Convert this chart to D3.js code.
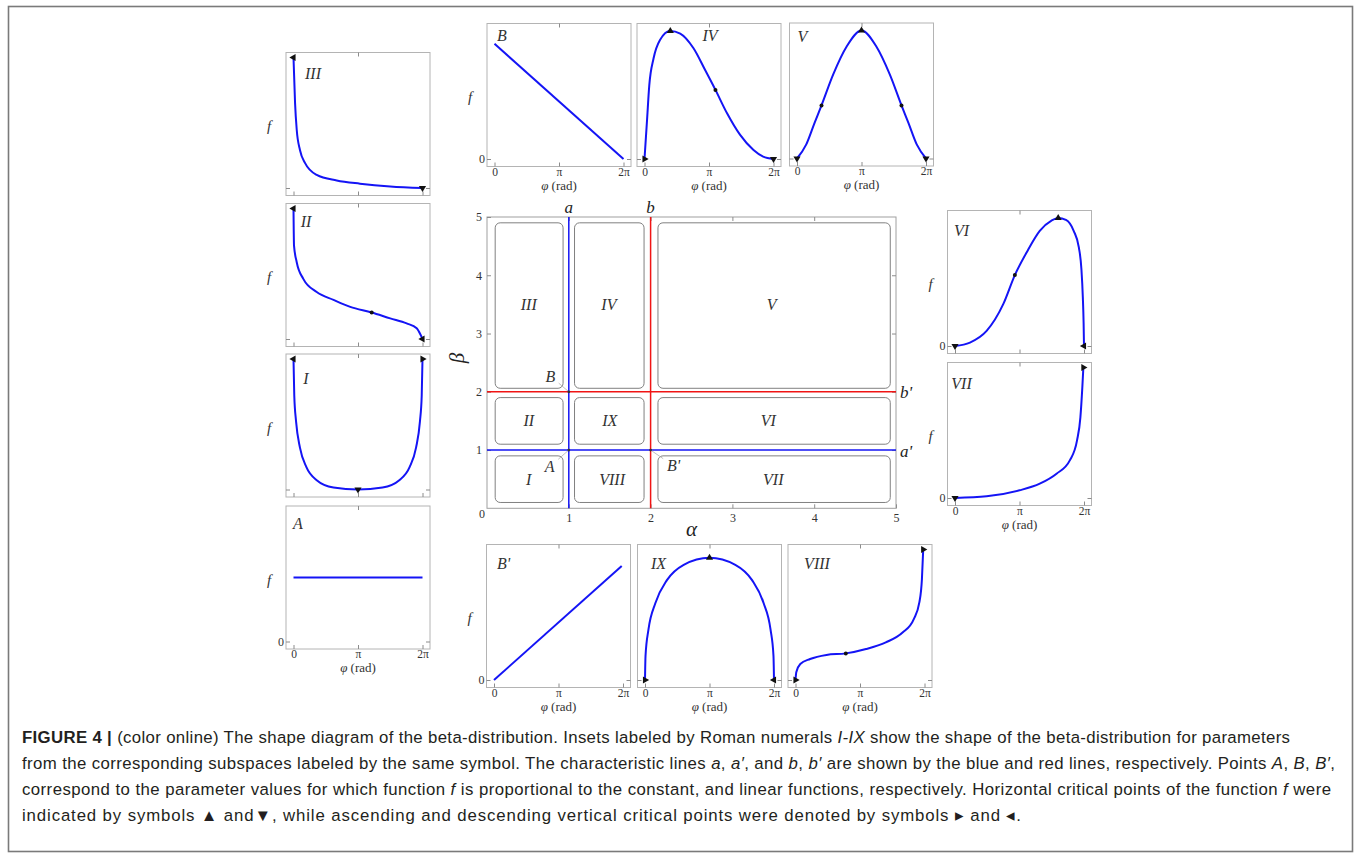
<!DOCTYPE html>
<html>
<head>
<meta charset="utf-8">
<script src="https://cdn.jsdelivr.net/npm/d3@7"></script>
<style>
  body { margin: 0; background: #fff; }
  svg { display: block; }
</style>
</head>
<body>
<svg id="chart" width="1354" height="854"></svg>
<script>
// ---------------- DATA ----------------
// Inset abscissa: phi in units of pi (0..2); ordinate: f relative to inset maximum
const PHI_TICKS = [0, 1, 2];
const PHI_TICK_LABELS = ["0", "\u03C0", "2\u03C0"];
const ALPHA_TICKS = [1, 2, 3, 4, 5];
const BETA_TICKS = [1, 2, 3, 4, 5];

const curveA = [[0, 0.5], [2, 0.5]];
const curveB = [[0, 0.9], [2, 0]];
const curveBp = [[0, 0], [1.98, 0.89]];
const curveI = [[0, 1.02], [0.012, 0.735], [0.04, 0.53], [0.1, 0.327], [0.2, 0.174], [0.36, 0.072], [0.62, 0.015], [1, 0],
                [1.38, 0.015], [1.64, 0.072], [1.8, 0.174], [1.9, 0.327], [1.96, 0.53], [1.988, 0.735], [2, 1.02]];
const curveII = [[0, 1.02], [0.008, 0.73], [0.05, 0.6], [0.152, 0.47], [0.36, 0.367], [0.62, 0.306], [0.88, 0.251],
                 [1.212, 0.207], [1.5, 0.161], [1.754, 0.122], [1.91, 0.084], [1.972, 0.031], [2, 0]];
const curveIII = [[0, 1.02], [0.024, 0.665], [0.05, 0.455], [0.1, 0.297], [0.18, 0.194], [0.36, 0.102], [0.67, 0.059],
                  [1.03, 0.034], [1.5, 0.012], [2, 0]];
const curveIV = [[0, 0], [0.04, 0.31], [0.074, 0.575], [0.14, 0.785], [0.24, 0.93], [0.4, 1], [0.554, 0.98], [0.76, 0.865],
                 [0.94, 0.695], [1.1, 0.54], [1.28, 0.357], [1.48, 0.19], [1.69, 0.07], [1.84, 0.018], [2, 0]];
const curveV = [[0, 0], [0.144, 0.11], [0.274, 0.28], [0.38, 0.415], [0.56, 0.655], [0.77, 0.875], [1, 1],
                [1.23, 0.875], [1.44, 0.655], [1.62, 0.415], [1.726, 0.28], [1.856, 0.11], [2, 0]];
const curveVI = [[0, 0], [0.232, 0.027], [0.49, 0.118], [0.748, 0.327], [0.928, 0.554], [1.11, 0.731], [1.314, 0.9],
                 [1.496, 0.98], [1.6, 1], [1.72, 0.985], [1.84, 0.9], [1.92, 0.77], [1.96, 0.6], [1.982, 0.38], [1.994, 0.18], [2, 0]];
const curveVII = [[0, 0], [0.49, 0.013], [1, 0.06], [1.314, 0.112], [1.574, 0.19], [1.78, 0.294], [1.892, 0.45],
                  [1.944, 0.63], [1.974, 0.864], [1.99, 1.02]];
const curveVIII = [[0, 0], [0.012, 0.06], [0.074, 0.125], [0.226, 0.164], [0.48, 0.196], [0.78, 0.208], [1.094, 0.242],
                   [1.4, 0.294], [1.66, 0.371], [1.834, 0.476], [1.92, 0.606], [1.96, 0.788], [1.98, 1.02]];
const curveIX = [[0, 0], [0.008, 0.188], [0.054, 0.395], [0.16, 0.6], [0.34, 0.78], [0.6, 0.9], [1, 0.955],
                 [1.4, 0.9], [1.66, 0.78], [1.84, 0.6], [1.946, 0.395], [1.992, 0.188], [2, 0]];

// critical points: [phi/pi, f, kind]
const marksI = [[0, 1.02, "left"], [1, 0, "down"], [2, 1.02, "right"]];
const marksII = [[0, 1.02, "left"], [1.212, 0.207, "dot"], [2, 0, "left"]];
const marksIII = [[0, 1.02, "left"], [2, 0, "down"]];
const marksIV = [[0, 0, "right"], [0.4, 1, "up"], [1.1, 0.54, "dot"], [2, 0, "down"]];
const marksV = [[0, 0, "down"], [0.38, 0.415, "dot"], [1, 1, "up"], [1.62, 0.415, "dot"], [2, 0, "down"]];
const marksVI = [[0, 0, "down"], [0.928, 0.554, "dot"], [1.6, 1, "up"], [2, 0, "left"]];
const marksVII = [[0, 0, "down"], [1.99, 1.02, "right"]];
const marksVIII = [[0, 0, "right"], [0.78, 0.208, "dot"], [1.98, 1.02, "right"]];
const marksIX = [[0, 0, "right"], [1, 0.955, "up"], [2, 0, "left"]];

// Main shape diagram: regions [label, alphaMin, alphaMax, betaMin, betaMax, labelAlpha, labelBeta]
const regionBoxes = [
  ["III", 0.1, 0.93, 2.06, 4.9, 0.51, 3.5],
  ["IV", 1.07, 1.92, 2.06, 4.9, 1.49, 3.5],
  ["V", 2.09, 4.93, 2.06, 4.9, 3.48, 3.5],
  ["II", 0.1, 0.93, 1.1, 1.9, 0.51, 1.5],
  ["IX", 1.07, 1.92, 1.1, 1.9, 1.5, 1.5],
  ["VI", 2.09, 4.93, 1.1, 1.9, 3.44, 1.5],
  ["I", 0.1, 0.93, 0.1, 0.9, 0.51, 0.5],
  ["VIII", 1.07, 1.92, 0.1, 0.9, 1.53, 0.5],
  ["VII", 2.09, 4.93, 0.1, 0.9, 3.5, 0.5]
];
// characteristic lines: [label, value]
const alphaLines = [["a", 1], ["b", 2]];
const betaLines = [["a'", 1], ["b'", 2]];
// special points [label, alpha, beta, labelAlpha, labelBeta]
const specialPoints = [["B", 1, 2, 0.775, 2.27], ["A", 1, 1, 0.765, 0.71], ["B'", 2, 1, 2.28, 0.73]];

const captionLines = [
  [["FIGURE 4", "b"], [" | ", "b"], ["(color online) The shape diagram of the beta-distribution. Insets labeled by Roman numerals ", ""], ["I-IX", "i"], [" show the shape of the beta-distribution for parameters", ""]],
  [["from the corresponding subspaces labeled by the same symbol. The characteristic lines ", ""], ["a", "i"], [", ", ""], ["a\u2032", "i"], [", and ", ""], ["b", "i"], [", ", ""], ["b\u2032", "i"], [" are shown by the blue and red lines, respectively. Points ", ""], ["A", "i"], [", ", ""], ["B", "i"], [", ", ""], ["B\u2032", "i"], [",", ""]],
  [["correspond to the parameter values for which function ", ""], ["f", "i"], [" is proportional to the constant, and linear functions, respectively. Horizontal critical points of the function ", ""], ["f", "i"], [" were", ""]],
  [["indicated by symbols \u25B2 and\u25BC, while ascending and descending vertical critical points were denoted by symbols \u25B8 and \u25C2.", ""]]
];

// ---------------- LAYOUT ----------------
const svg = d3.select("#chart");
const SERIF = "'Liberation Serif', 'Times New Roman', serif";
const SANS = "'Liberation Sans', Arial, Helvetica, sans-serif";
const BLUE = "#1414f5";
const RED = "#f01414";

svg.append("rect").attr("x", 8.5).attr("y", 6.5).attr("width", 1344).attr("height", 845)
  .attr("fill", "none").attr("stroke", "#7a7a7a").attr("stroke-width", 1.6);

// ---------- main diagram ----------
const xA = d3.scaleLinear().domain([0, 5]).range([487, 896]);
const yB = d3.scaleLinear().domain([0, 5]).range([508.3, 217]);
const main = svg.append("g");

main.append("rect").attr("x", xA(0)).attr("y", yB(5)).attr("width", xA(5) - xA(0)).attr("height", yB(0) - yB(5))
  .attr("fill", "none").attr("stroke", "#a0a0a0").attr("stroke-width", 1);

function styleAxis(g, size) {
  g.select(".domain").remove();
  g.selectAll(".tick line").attr("stroke", "#8c8c8c");
  g.selectAll(".tick text").attr("font-family", SERIF).attr("font-size", size).attr("fill", "#333");
}
main.append("g").attr("transform", `translate(0,${yB(0)})`)
  .call(d3.axisBottom(xA).tickValues(ALPHA_TICKS).tickSize(-4).tickPadding(5).tickFormat(d3.format("d")))
  .call(g => styleAxis(g, 12));
main.append("g").attr("transform", `translate(${xA(0)},0)`)
  .call(d3.axisLeft(yB).tickValues(BETA_TICKS).tickSize(-4).tickPadding(5).tickFormat(d3.format("d")))
  .call(g => styleAxis(g, 12));
main.append("g").attr("transform", `translate(0,${yB(5)})`)
  .call(d3.axisTop(xA).tickValues(ALPHA_TICKS.slice(0, 4)).tickSize(-4).tickFormat(""))
  .call(g => styleAxis(g, 12));
main.append("g").attr("transform", `translate(${xA(5)},0)`)
  .call(d3.axisRight(yB).tickValues(BETA_TICKS.slice(0, 4)).tickSize(-4).tickFormat(""))
  .call(g => styleAxis(g, 12));
main.append("text").attr("x", xA(0) - 5).attr("y", yB(0) + 10).attr("text-anchor", "middle")
  .attr("font-family", SERIF).attr("font-size", 12).attr("fill", "#333").text("0");

// region boxes
main.selectAll(".region").data(regionBoxes).join("rect").attr("class", "region")
  .attr("x", d => xA(d[1])).attr("y", d => yB(d[4]))
  .attr("width", d => xA(d[2]) - xA(d[1])).attr("height", d => yB(d[3]) - yB(d[4]))
  .attr("rx", 5).attr("ry", 5).attr("fill", "none").attr("stroke", "#808080").attr("stroke-width", 1);
main.selectAll(".rlabel").data(regionBoxes).join("text").attr("class", "rlabel")
  .attr("x", d => xA(d[5])).attr("y", d => yB(d[6])).attr("text-anchor", "middle").attr("dominant-baseline", "central")
  .attr("font-family", SERIF).attr("font-style", "italic").attr("font-size", 16).attr("fill", "#333").text(d => d[0]);

// characteristic lines
alphaLines.forEach(([lab, v], i) => {
  const c = i === 0 ? BLUE : RED;
  main.append("line").attr("x1", xA(v)).attr("x2", xA(v)).attr("y1", yB(0)).attr("y2", yB(5))
    .attr("stroke", c).attr("stroke-width", 1.5);
  main.append("text").attr("x", xA(v)).attr("y", yB(5) - 10).attr("text-anchor", "middle").attr("dominant-baseline", "central")
    .attr("font-family", SERIF).attr("font-style", "italic").attr("font-size", 17).attr("fill", "#222").text(lab);
});
betaLines.forEach(([lab, v], i) => {
  const c = i === 0 ? BLUE : RED;
  main.append("line").attr("x1", xA(0)).attr("x2", xA(5)).attr("y1", yB(v)).attr("y2", yB(v))
    .attr("stroke", c).attr("stroke-width", 1.5);
  main.append("text").attr("x", xA(5) + 4).attr("y", yB(v) + 1).attr("text-anchor", "start").attr("dominant-baseline", "central")
    .attr("font-family", SERIF).attr("font-style", "italic").attr("font-size", 17).attr("fill", "#222").text(lab);
});
// special points
specialPoints.forEach(([lab, a, b, la, lb]) => {
  const px = xA(a), py = yB(b), tx = xA(la), ty = yB(lb);
  const dx = px - tx, dy = py - ty;
  main.append("line").attr("x1", tx + dx * 0.45).attr("y1", ty + dy * 0.45).attr("x2", px).attr("y2", py)
    .attr("stroke", "#b0b0b0").attr("stroke-width", 0.8);
  main.append("circle").attr("cx", px).attr("cy", py).attr("r", 1.4).attr("fill", "#333");
  main.append("text").attr("x", tx).attr("y", ty).attr("text-anchor", "middle").attr("dominant-baseline", "central")
    .attr("font-family", SERIF).attr("font-style", "italic").attr("font-size", 16).attr("fill", "#333").text(lab);
});
main.append("text").attr("x", (xA(0) + xA(5)) / 2).attr("y", 529).attr("text-anchor", "middle").attr("dominant-baseline", "central")
  .attr("font-family", SERIF).attr("font-style", "italic").attr("font-size", 21).attr("fill", "#222").text("\u03B1");
main.append("text").attr("transform", `translate(457,358) rotate(-90)`).attr("text-anchor", "middle").attr("dominant-baseline", "central")
  .attr("font-family", SERIF).attr("font-style", "italic").attr("font-size", 21).attr("fill", "#222").text("\u03B2");

// ---------- insets ----------
const W = 144, H = 143;
const insets = [
  { name: "B", x: 487, y: 23.5, data: curveB, marks: [], lab: [15, 12], xl: true, zero: true, f: true },
  { name: "IV", x: 637, y: 23.5, data: curveIV, marks: marksIV, lab: [73, 12], xl: true, zero: false, f: false },
  { name: "V", x: 789.5, y: 23, data: curveV, marks: marksV, lab: [13, 13], xl: true, zero: false, f: false },
  { name: "III", x: 286, y: 52.5, data: curveIII, marks: marksIII, lab: [27, 21], xl: false, zero: false, f: true },
  { name: "II", x: 286, y: 203.5, data: curveII, marks: marksII, lab: [20, 18], xl: false, zero: false, f: true },
  { name: "I", x: 286, y: 354, data: curveI, marks: marksI, lab: [20, 24], xl: false, zero: false, f: true },
  { name: "A", x: 286, y: 506, data: curveA, marks: [], lab: [12, 17], xl: true, zero: true, f: true },
  { name: "VI", x: 947.5, y: 210.5, data: curveVI, marks: marksVI, lab: [14, 20], xl: false, zero: true, f: true },
  { name: "VII", x: 947.5, y: 362.5, data: curveVII, marks: marksVII, lab: [14, 21], xl: true, zero: true, f: true },
  { name: "B'", x: 486.5, y: 544.5, data: curveBp, marks: [], lab: [17, 19], xl: true, zero: true, f: true },
  { name: "IX", x: 637.5, y: 544.5, data: curveIX, marks: marksIX, lab: [21, 19], xl: true, zero: false, f: false },
  { name: "VIII", x: 788, y: 544.5, data: curveVIII, marks: marksVIII, lab: [29, 19], xl: true, zero: false, f: false }
];
const rot = { up: 0, down: 180, right: 90, left: -90 };

insets.forEach(L => {
  const g = svg.append("g");
  const x = d3.scaleLinear().domain([0, 2]).range([L.x + 7.5, L.x + W - 7.5]);
  const y = d3.scaleLinear().domain([0, 1]).range([L.y + H - 7.5, L.y + 7.5]);
  g.append("rect").attr("x", L.x).attr("y", L.y).attr("width", W).attr("height", H)
    .attr("fill", "#fff").attr("stroke", "#b4b4b4").attr("stroke-width", 1);
  g.append("g").attr("transform", `translate(0,${L.y + H})`)
    .call(d3.axisBottom(x).tickValues(PHI_TICKS).tickSize(-4).tickPadding(1)
      .tickFormat((d, i) => L.xl ? PHI_TICK_LABELS[i] : ""))
    .call(a => styleAxis(a, 11.5));
  g.append("g").attr("transform", `translate(0,${L.y})`)
    .call(d3.axisTop(x).tickValues([1]).tickSize(-4).tickFormat(""))
    .call(a => styleAxis(a, 12));
  g.append("g").attr("transform", `translate(${L.x},0)`)
    .call(d3.axisLeft(y).tickValues([0]).tickSize(-4).tickPadding(2).tickFormat(() => L.zero ? "0" : ""))
    .call(a => styleAxis(a, 12));
  g.append("g").attr("transform", `translate(${L.x + W},0)`)
    .call(d3.axisRight(y).tickValues([0]).tickSize(-4).tickFormat(""))
    .call(a => styleAxis(a, 12));
  if (L.xl) {
    const t = g.append("text").attr("x", x(1)).attr("y", L.y + H + 23).attr("text-anchor", "middle")
      .attr("font-family", SERIF).attr("font-size", 13).attr("fill", "#333");
    t.append("tspan").attr("font-style", "italic").text("\u03C6");
    t.append("tspan").text(" (rad)");
  }
  if (L.f) {
    g.append("text").attr("x", L.x - 17).attr("y", L.y + 73.5).attr("text-anchor", "middle").attr("dominant-baseline", "central")
      .attr("font-family", SERIF).attr("font-style", "italic").attr("font-size", 15).attr("fill", "#333").text("f");
  }
  g.append("path").datum(L.data)
    .attr("d", d3.line().x(d => x(d[0])).y(d => y(d[1])).curve(d3.curveMonotoneX))
    .attr("fill", "none").attr("stroke", BLUE).attr("stroke-width", 2);
  L.marks.forEach(m => {
    if (m[2] === "dot") {
      g.append("circle").attr("cx", x(m[0])).attr("cy", y(m[1])).attr("r", 2).attr("fill", "#111");
    } else {
      g.append("path").attr("d", d3.symbol(d3.symbolTriangle, 22)())
        .attr("transform", `translate(${x(m[0])},${y(m[1])}) rotate(${rot[m[2]]})`).attr("fill", "#111");
    }
  });
  g.append("text").attr("x", L.x + L.lab[0]).attr("y", L.y + L.lab[1]).attr("text-anchor", "middle").attr("dominant-baseline", "central")
    .attr("font-family", SERIF).attr("font-style", "italic").attr("font-size", 16).attr("fill", "#333").text(L.name);
});

// ---------- caption ----------
const capY = [742.5, 768.5, 794.5, 820.5];
const capW = [1268, 1313, 1309, 999];
captionLines.forEach((parts, i) => {
  const t = svg.append("text").attr("x", 22).attr("y", capY[i])
    .attr("font-family", SANS).attr("font-size", 16.8).attr("fill", "#231f20")
    .attr("textLength", capW[i]).attr("lengthAdjust", "spacing");
  parts.forEach(([s, st]) => {
    const sp = t.append("tspan").text(s);
    if (st === "b") sp.attr("font-weight", "bold");
    if (st === "i") sp.attr("font-style", "italic");
  });
});
</script>
</body>
</html>
